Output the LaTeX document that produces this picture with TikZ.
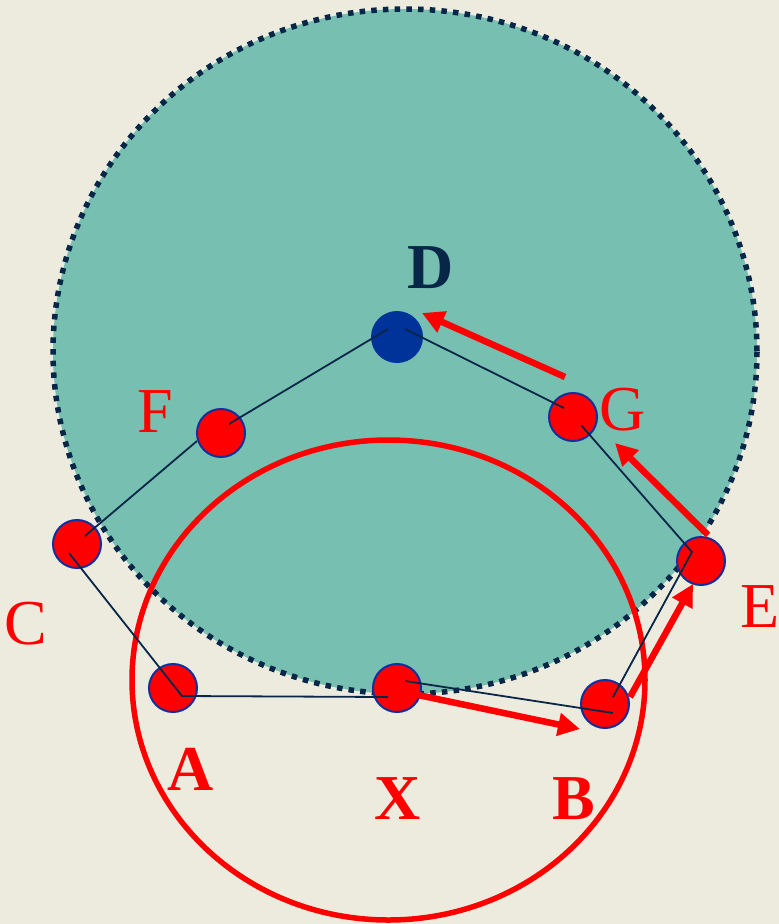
\documentclass[tikz,border=0pt]{standalone}
\usepackage{fontspec}
\setmainfont{Liberation Serif}
\usepackage{tikz}
\usetikzlibrary{arrows.meta, calc}

\definecolor{paper}{RGB}{236,235,222}
\definecolor{sea}{RGB}{118,191,177}
\definecolor{ink}{RGB}{8,38,72}
\definecolor{rim}{RGB}{16,48,160}
\definecolor{deep}{RGB}{0,51,153}

\begin{document}
\begin{tikzpicture}[
					x=1pt, y=-1pt,
					% --- Styles ---
					dot/.style={
						circle, draw=rim, line width=2pt, fill=red,
						minimum size=48pt, inner sep=0pt
					},
					hub/.style={
						dot, fill=deep, draw=deep, minimum size=50pt
					},
					lbl/.style={
						text=red, font=\fontsize{64}{64}\selectfont, inner sep=0pt
					},
					blbl/.style={
						lbl, font=\fontsize{64}{64}\selectfont\bfseries
					},
					edge/.style={
						draw=ink, line width=1.8pt
					},
					move/.style={
						draw=red, line width=6.5pt, -{Triangle[length=22pt,width=22pt]}
					}
					]
					
					% --- 1. Background ---
					\fill [paper] (0,0) rectangle (779,924);
					\useasboundingbox (0,0) rectangle (779,924);
					
					% --- 2. Big disc and small circle ---
					\fill [sea] (405,351.5) ellipse [x radius=352, y radius=342.5];
					\draw [ink, line width=5.5pt, dash pattern=on 5.5pt off 6.2pt] (405,351.5) ellipse [x radius=352, y radius=342.5];
					\draw [red, line width=5.5pt] (388.5,680) ellipse [x radius=256.5, y radius=240];
					
					% --- 3. Points ---
					\node [dot] (A) at (173,688) {};
					\node [dot] (X) at (397,688) {};
					\node [dot] (B) at (605,704) {};
					\node [dot] (C) at (77,544) {};
					\node [dot] (F) at (221,433) {};
					\node [hub] (D) at (397,337) {};
					\node [dot] (G) at (573,417) {};
					\node [dot] (E) at (701,561) {};
					
					% --- 4. Path through the points ---
					\draw [edge] ($(C)+(-8,9)$) -- ($(A)+(9,8)$) -- ($(X)+(-9,9)$);
					\draw [edge] ($(X)+(8,-7)$) -- ($(B)+(8,9)$);
					\draw [edge] ($(B)+(8,-7)$) -- ($(E)+(-9,-9)$) -- ($(G)+(8,8)$);
					\draw [edge] ($(G)+(-9,-9)$) -- ($(D)+(8,-8)$);
					\draw [edge] ($(D)+(-9,-8)$) -- ($(F)+(8,-9)$);
					\draw [edge] ($(F)+(-24,8)$) -- ($(C)+(8,-8)$);
					
					% --- 5. Moves ---
					\draw [move] ($(X)+(21,7)$) -- ($(B)+(-25,25)$);
					\draw [move] ($(B)+(25,-7)$) -- ($(E)+(-8,23)$);
					\draw [move] ($(E)+(7,-26)$) -- ($(G)+(42,26)$);
					\draw [move] ($(G)+(-8,-40)$) -- ($(D)+(25,-24)$);
					
					% --- 6. Labels ---
					\node [blbl, text=ink] (lD) at (431,268) {D};
					\node [lbl] (lF) at (155,412) {F};
					\node [lbl] (lG) at (623,410) {G};
					\node [lbl] (lC) at (26,624) {C};
					\node [lbl] (lE) at (760,607) {E};
					\node [blbl] (lA) at (191,769) {A};
					\node [blbl] (lX) at (398,799) {X};
					\node [blbl] (lB) at (574,799) {B};
					
				\end{tikzpicture}
\end{document}
